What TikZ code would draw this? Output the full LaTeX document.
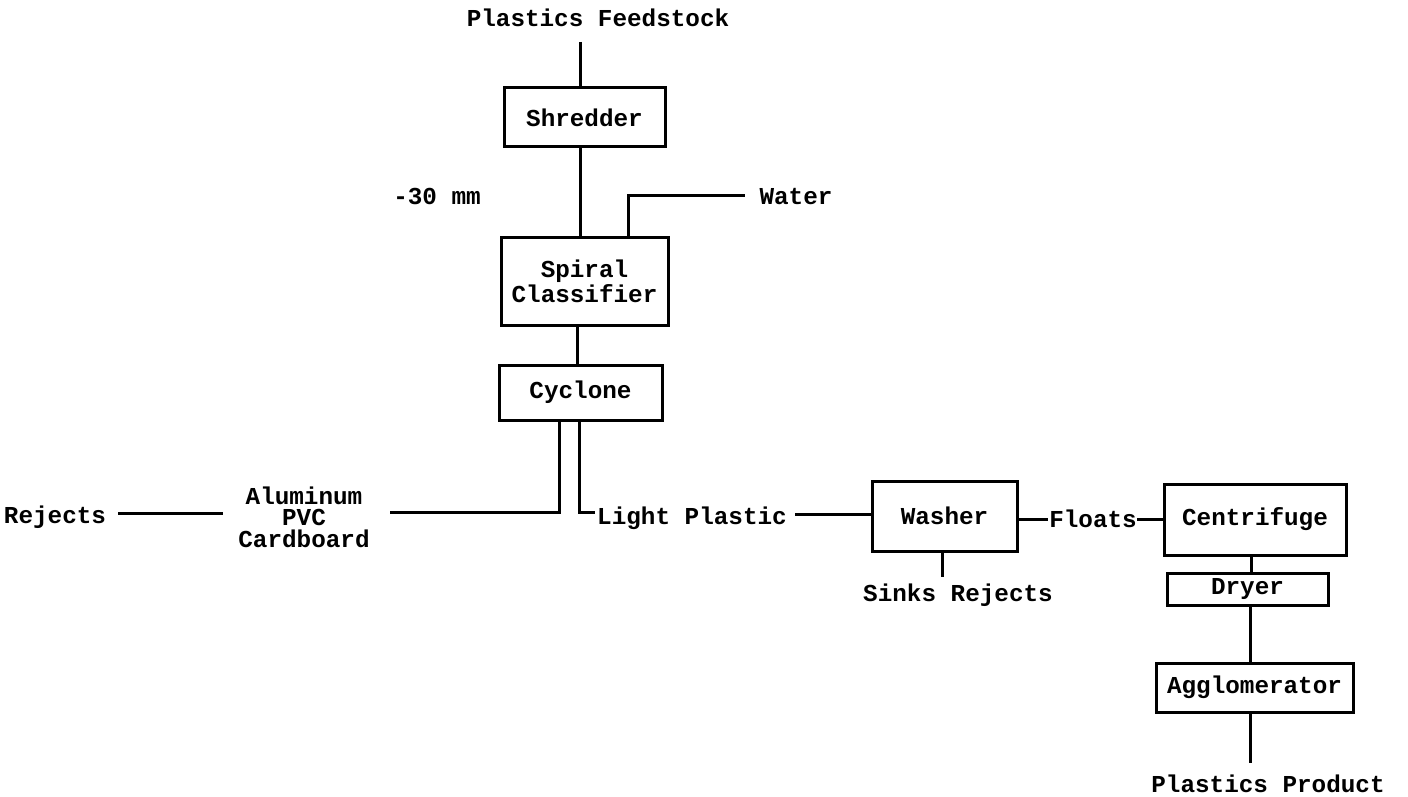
\documentclass[tikz,border=0pt]{standalone}
\usepackage{fontspec}
\setmonofont{Liberation Mono}
\begin{document}
\begin{tikzpicture}[x=1pt,y=-1pt,
  every node/.style={font=\ttfamily\bfseries\fontsize{24.3}{25}\selectfont, inner sep=0pt},
  box/.style={draw, line width=3pt, align=center},
  flow/.style={line width=3pt},
  lbl/.style={align=center}]
\useasboundingbox (0,0) rectangle (1408,797);
% boxes
\node[box, minimum width=161pt, minimum height=59pt] (shred) at (584.5,117.5) {Shredder};
\node[box, minimum width=167pt, minimum height=88pt] (spiral) at (584.5,281) {Spiral\\Classifier};
\node[box, minimum width=163pt, minimum height=55pt] (cyc) at (580.5,392.5) {Cyclone};
\node[box, minimum width=145pt, minimum height=70pt] (wash) at (944.5,516) {Washer};
\node[box, minimum width=182pt, minimum height=71pt] (cent) at (1255,519.5) {Centrifuge};
\node[box, minimum width=161pt, minimum height=32pt] (dry) at (1247.5,589) {Dryer};
\node[box, minimum width=197pt, minimum height=49pt] (agg) at (1254.5,687.5) {Agglomerator};
% labels
\node[lbl] (feed) at (598,18) {Plastics Feedstock};
\node[lbl] (mm) at (437,197) {-30 mm};
\node[lbl] (water) at (796,197) {Water};
\node[lbl] (rej) at (55,517) {Rejects};
\node[lbl, font=\ttfamily\bfseries\fontsize{24.3}{21.5}\selectfont] (alu) at (304,517) {Aluminum\\PVC\\Cardboard};
\node[lbl] (light) at (692,518) {Light Plastic};
\node[lbl] (floats) at (1093,519) {Floats};
\node[lbl] (sinks) at (958,595) {Sinks Rejects};
\node[lbl] (prod) at (1268,784) {Plastics Product};
% connector end points
\coordinate (feedend) at (580,42);
\coordinate (waterin) at (628,195);
\coordinate (waterend) at (745,195);
\coordinate (cycL) at (559,512);
\coordinate (cycR) at (579,512);
% connectors
\draw[flow] (feedend) -- (feedend |- shred.north);
\draw[flow] (580,0 |- shred.south) -- (580,0 |- spiral.north);
\draw[flow] (waterin |- spiral.north) -- (waterin) -- (waterend);
\draw[flow] (577,0 |- spiral.south) -- (577,0 |- cyc.north);
\draw[flow] (cycL |- cyc.south) -- (cycL) -- (390,512);
\draw[flow] (cycR |- cyc.south) -- (cycR) -- (595,512);
\draw[flow] (118,513) -- (223,513);
\draw[flow] (795,514) -- (wash.west |- 0,514);
\draw[flow] (wash.east |- 0,519) -- (1048,519);
\draw[flow] (1137,519) -- (cent.west |- 0,519);
\draw[flow] (942,0 |- wash.south) -- (942,577);
\draw[flow] (1251,0 |- cent.south) -- (1251,0 |- dry.north);
\draw[flow] (1250,0 |- dry.south) -- (1250,0 |- agg.north);
\draw[flow] (1250,0 |- agg.south) -- (1250,763);
\end{tikzpicture}
\end{document}
